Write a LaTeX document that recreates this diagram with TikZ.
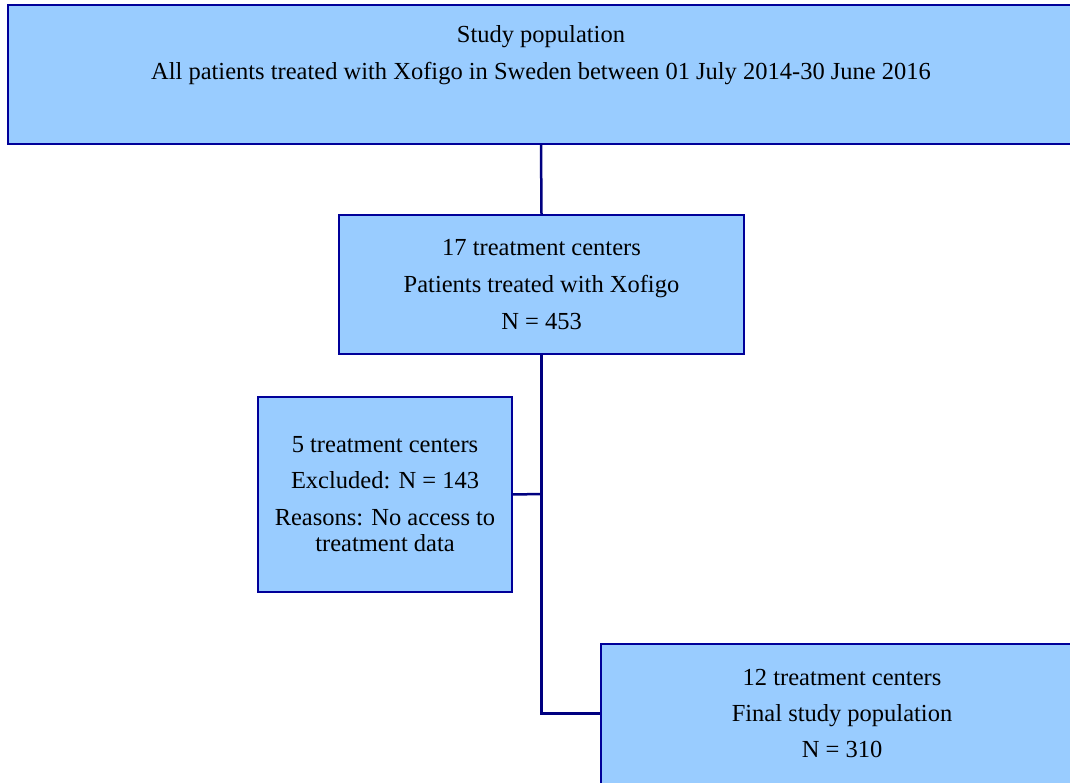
\documentclass[tikz,border=0pt]{standalone}
\usepackage{fontspec}
\setmainfont{Liberation Serif}
\definecolor{boxfill}{HTML}{99CCFF}
\definecolor{boxline}{HTML}{000099}
\definecolor{linkline}{HTML}{000080}
\begin{document}
\begin{tikzpicture}[x=1pt,y=-1pt,
    box/.style={draw=boxline, line width=1.5pt, fill=boxfill, align=center,
        inner sep=0pt, font=\fontsize{24.5}{26}\selectfont},
    edge/.style={draw=boxline, line width=1.5pt},
    link/.style={draw=linkline, line width=2.5pt}]
                \useasboundingbox (0,0) rectangle (1070,783);

                % boxes that run on past the right and bottom edges
                \fill[boxfill] (8,5) rectangle (1070,144);
                \draw[edge] (1070,5) -- (8,5) -- (8,144) -- (1070,144);
                \fill[boxfill] (601,644) rectangle (1070,783);
                \draw[edge] (1070,644) -- (601,644) -- (601,783);

                \node[box, draw=none, fill=none, minimum width=1066pt, minimum height=139pt] (study) at (541,74.5)
                    {Study population\\[11pt]All patients treated with Xofigo in Sweden between 01 July 2014-30 June 2016\\[11pt]\strut};
                \node[box, minimum width=405pt, minimum height=139pt] (centers) at (541.5,284.5)
                    {17 treatment centers\\[11pt]Patients treated with Xofigo\\[11pt]N = 453};
                \node[box, minimum width=254pt, minimum height=195pt] (excluded) at (385,494.5)
                    {5 treatment centers\\[10pt]Excluded: N = 143\\[11pt]Reasons: No access to\\treatment data};
                \node[box, draw=none, fill=none, minimum width=482pt, minimum height=139pt] (final) at (842,713.5)
                    {12 treatment centers\\[10pt]Final study population\\[10pt]N = 310};

                \coordinate (split) at (541,494);
                \draw[link] (study.south) -- (centers.north);
                \draw[link] (centers.south) |- (final.west);
                \draw[link] (excluded.east) -- (split);
            \end{tikzpicture}
\end{document}
